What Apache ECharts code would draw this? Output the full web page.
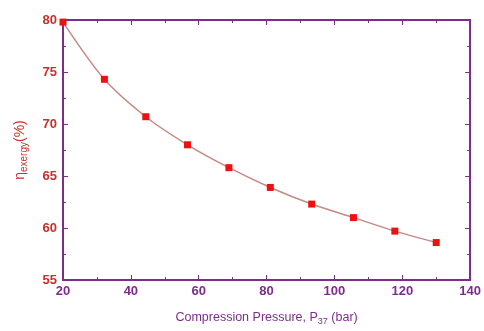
<!DOCTYPE html>
<html><head><meta charset="utf-8">
<script src="https://cdn.jsdelivr.net/npm/echarts@6/dist/echarts.min.js"></script>
<style>html,body{margin:0;padding:0;background:#fff}#c{width:484px;height:331px}</style>
</head><body><div id="c"></div>
<script>
const pressure = [20, 32.2, 44.4, 56.7, 68.9, 81.1, 93.3, 105.6, 117.8, 130];
const exergyEff = [79.8, 74.3, 70.7, 68.0, 65.8, 63.9, 62.3, 61.0, 59.7, 58.6];

const purple = '#7d2c8c';
const red = '#c8302a';
const font = 'Liberation Sans, Arial, sans-serif';

const chart = echarts.init(document.getElementById('c'));
const tickIn = {show: true, inside: true, length: 5, lineStyle: {color: purple, width: 1}};
const minorIn = {show: true, splitNumber: 2, length: 3, lineStyle: {color: purple, width: 1}};
chart.setOption({
  animation: false,
  grid: {left: 63, right: 10, top: 20, bottom: 44, containLabel: false},
  xAxis: [{
    type: 'value', min: 20, max: 140, interval: 20,
    axisLine: {show: true, lineStyle: {color: purple, width: 2}},
    axisTick: tickIn, minorTick: minorIn, splitLine: {show: false},
    axisLabel: {color: purple, fontWeight: 'bold', fontSize: 13, fontFamily: font, margin: 5},
    name: '{t|Compression Pressure, P}{s|37}{t| (bar)}',
    nameLocation: 'middle', nameGap: 30,
    nameTextStyle: {rich: {
      t: {color: purple, fontSize: 12.5, fontFamily: font},
      s: {color: purple, fontSize: 9, fontFamily: font, padding: [7, 0, 0, 0]}
    }}
  }, {
    type: 'value', position: 'top', min: 20, max: 140, interval: 20,
    axisLine: {show: true, lineStyle: {color: purple, width: 2}},
    axisTick: tickIn, minorTick: minorIn, splitLine: {show: false}, axisLabel: {show: false}
  }],
  yAxis: [{
    type: 'value', min: 55, max: 80, interval: 5,
    axisLine: {show: true, lineStyle: {color: purple, width: 2}},
    axisTick: tickIn, minorTick: minorIn, splitLine: {show: false},
    axisLabel: {color: red, fontWeight: 'bold', fontSize: 13, fontFamily: font, margin: 6},
    name: '{t|η}{s|exergy}{t|(%)}',
    nameLocation: 'middle', nameGap: 34, nameRotate: 90,
    nameTextStyle: {rich: {
      t: {color: red, fontSize: 14, fontFamily: font},
      s: {color: red, fontSize: 10, fontFamily: font, padding: [7, 0, 0, 0]}
    }}
  }, {
    type: 'value', position: 'right', min: 55, max: 80, interval: 5,
    axisLine: {show: true, lineStyle: {color: purple, width: 2}},
    axisTick: tickIn, minorTick: minorIn, splitLine: {show: false}, axisLabel: {show: false}
  }],
  series: [{
    type: 'line', smooth: 0.3, clip: true,
    data: pressure.map((p, i) => [p, exergyEff[i]]),
    symbol: 'rect', symbolSize: 7,
    lineStyle: {color: '#c48a84', width: 1.5},
    itemStyle: {color: '#ee1111'}
  }]
});
</script></body></html>
